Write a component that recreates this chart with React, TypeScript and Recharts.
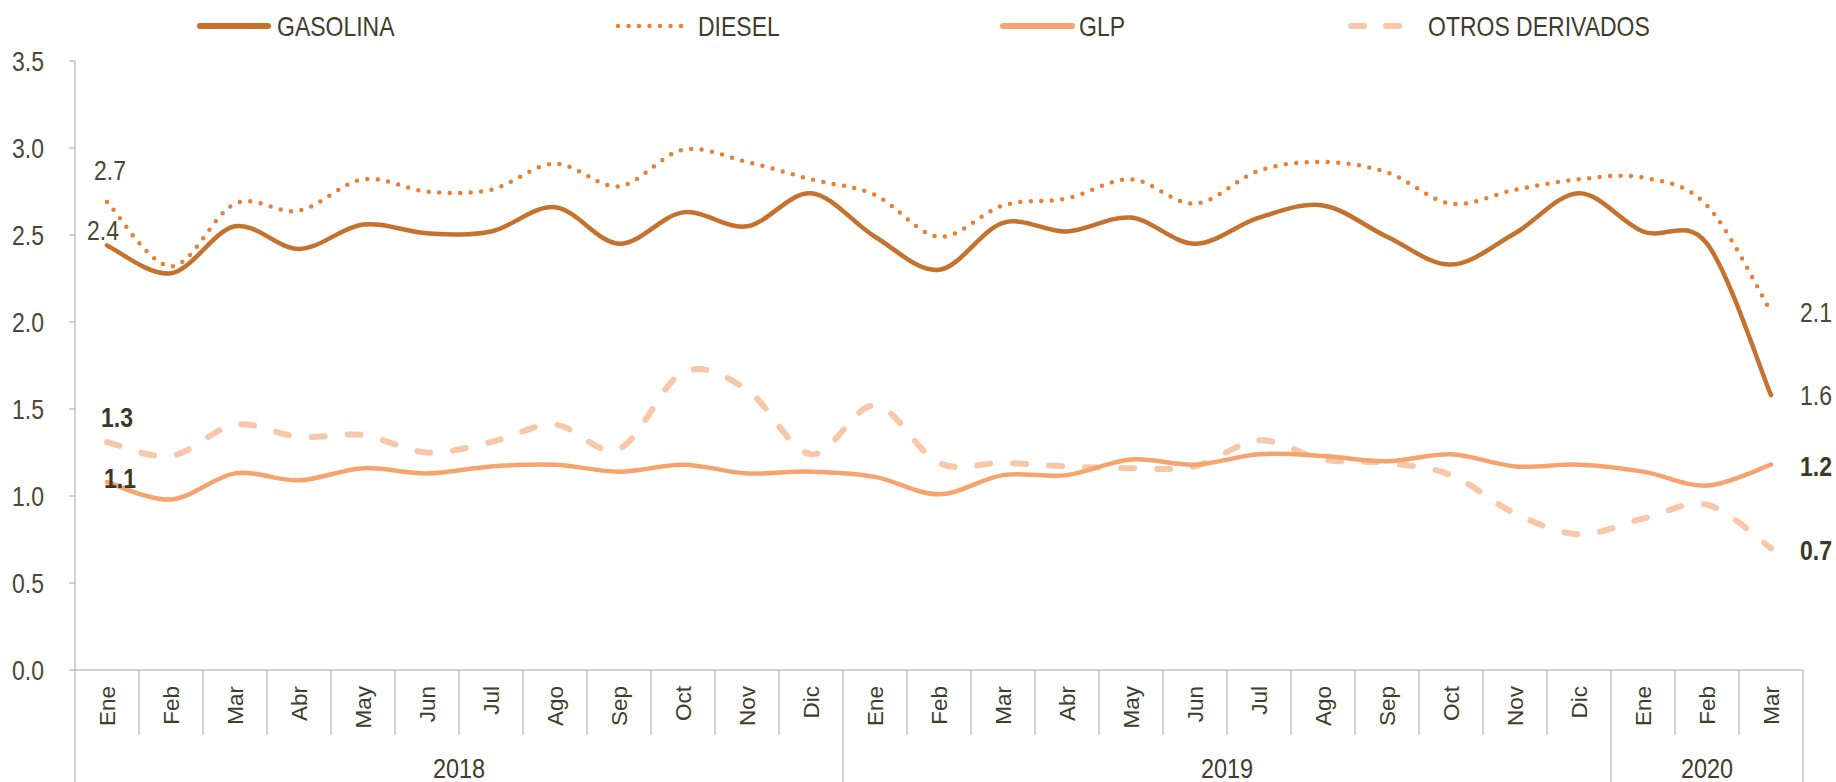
import React from 'react';
import { LineChart, Line, XAxis, YAxis, LabelList } from 'recharts';

// ---------- data ----------
const months = ['Ene','Feb','Mar','Abr','May','Jun','Jul','Ago','Sep','Oct','Nov','Dic','Ene','Feb','Mar','Abr','May','Jun','Jul','Ago','Sep','Oct','Nov','Dic','Ene','Feb','Mar'];
const years = ['2018', '2019', '2020'];
const yearCounts = [12, 12, 3];
const gasolina = [2.44,2.28,2.55,2.42,2.56,2.51,2.52,2.66,2.45,2.63,2.55,2.74,2.49,2.30,2.57,2.52,2.60,2.45,2.60,2.67,2.49,2.33,2.51,2.74,2.52,2.45,1.58];
const diesel = [2.69,2.32,2.68,2.64,2.82,2.75,2.76,2.91,2.78,2.99,2.92,2.82,2.73,2.49,2.67,2.71,2.82,2.68,2.87,2.92,2.86,2.68,2.76,2.82,2.83,2.67,2.06];
const glp = [1.08,0.98,1.13,1.09,1.16,1.13,1.17,1.18,1.14,1.18,1.13,1.14,1.11,1.01,1.12,1.12,1.21,1.18,1.24,1.23,1.20,1.24,1.17,1.18,1.14,1.06,1.18];
const otros = [1.31,1.23,1.41,1.34,1.35,1.25,1.31,1.41,1.27,1.71,1.61,1.24,1.52,1.19,1.19,1.17,1.16,1.17,1.32,1.21,1.19,1.12,0.90,0.78,0.87,0.95,0.70];
const yTicks = [0, 0.5, 1, 1.5, 2, 2.5, 3, 3.5];
const seriesNames = ['GASOLINA', 'DIESEL', 'GLP', 'OTROS DERIVADOS'];

// ---------- layout / style ----------
const W = 1836, H = 782;
const ML = 75, MR = 33, MT = 61, MB = 112;
const band = (W - ML - MR) / months.length;
const axisY = H - MB;
const FONT = "'Liberation Sans', Arial, sans-serif";
const TXT = '#3F3D2B';
const GRID = '#A6A6A6';
const STRETCH = 1.2;

const C_GAS = '#C4722E';
const C_DIE = '#EA7F35';
const C_GLP = '#F5A46E';
const C_OTR = '#F8C7A8';

const data = months.map((m, i) => ({
  m,
  gasolina: gasolina[i],
  diesel: diesel[i],
  glp: glp[i],
  otros: otros[i],
}));

const yearStarts: number[] = [];
{
  let s = 0;
  yearCounts.forEach((c) => { yearStarts.push(s); s += c; });
}

// Excel-like smoothing (uniform Catmull-Rom as cubic Bezier)
function excelCurve(context: any) {
  let pts: number[][] = [];
  return {
    areaStart() {},
    areaEnd() {},
    lineStart() { pts = []; },
    point(x: number, y: number) { pts.push([+x, +y]); },
    lineEnd() {
      const n = pts.length;
      if (!n) return;
      context.moveTo(pts[0][0], pts[0][1]);
      for (let i = 0; i < n - 1; i++) {
        const p0 = pts[i - 1] || pts[i];
        const p1 = pts[i];
        const p2 = pts[i + 1];
        const p3 = pts[i + 2] || p2;
        context.bezierCurveTo(
          p1[0] + (p2[0] - p0[0]) / 6, p1[1] + (p2[1] - p0[1]) / 6,
          p2[0] - (p3[0] - p1[0]) / 6, p2[1] - (p3[1] - p1[1]) / 6,
          p2[0], p2[1]
        );
      }
    },
  };
}

// horizontal text, slightly stretched vertically like the reference
function SText(props: any) {
  const { x, y, anchor = 'start', size = 23, weight = 'normal', fill = TXT, children } = props;
  return (
    <text transform={`translate(${x},${y}) scale(1,${STRETCH})`} textAnchor={anchor} dominantBaseline="central"
      fontSize={size} fontWeight={weight} fontFamily={FONT} fill={fill}>{children}</text>
  );
}

function MonthTick(props: any) {
  const { x, payload } = props;
  const i = payload.index;
  const left = x - band / 2;
  const right = x + band / 2;
  const isYearStart = yearStarts.includes(i);
  const last = i === months.length - 1;
  const els: any[] = [];
  els.push(
    <line key="l" x1={left} x2={left} y1={axisY} y2={isYearStart ? H : axisY + 65} stroke={GRID} strokeWidth={1} />
  );
  if (last) {
    els.push(<line key="r" x1={right} x2={right} y1={axisY} y2={H} stroke={GRID} strokeWidth={1} />);
  }
  els.push(
    <text key="t" transform={`translate(${x},${axisY + 16}) rotate(-90)`} textAnchor="end" dy="0.36em"
      fontSize={22.5} fontFamily={FONT} fill={TXT}>{payload.value}</text>
  );
  yearStarts.forEach((s, k) => {
    const mid = s + yearCounts[k] / 2 - 0.5;
    if (Math.floor(mid) === i) {
      els.push(
        <SText key={'y' + k} x={x + (mid - i) * band} y={axisY + 98} anchor="middle" size={23.5}>{years[k]}</SText>
      );
    }
  });
  return <g>{els}</g>;
}

function YTick(props: any) {
  const { x, y, payload } = props;
  return <SText x={x} y={y} anchor="end" size={23} fill="#4A4838">{Number(payload.value).toFixed(1)}</SText>;
}

function makeLabel(first: [number, number], lastOff: [number, number], bold: boolean) {
  return (p: any) => {
    const { x, y, value, index } = p;
    let off: [number, number] | null = null;
    if (index === 0) off = first;
    else if (index === months.length - 1) off = lastOff;
    if (!off) return null;
    return (
      <SText x={x + off[0]} y={y + off[1]} anchor="middle" size={23}
        weight={bold ? 'bold' : 'normal'} fill={bold ? '#3A3826' : '#4A4836'}>
        {Number(value).toFixed(1)}
      </SText>
    );
  };
}

function Legend() {
  const y = 26;
  return (
    <svg width={W} height={50} style={{ position: 'absolute', left: 0, top: 0 }}>
      <line x1={200} x2={268} y1={y} y2={y} stroke={C_GAS} strokeWidth={6} strokeLinecap="round" />
      <SText x={277} y={y} size={23}>{seriesNames[0]}</SText>
      <line x1={618} x2={686} y1={y} y2={y} stroke={C_DIE} strokeWidth={4.5} strokeLinecap="round" strokeDasharray="0 10.5" />
      <SText x={698} y={y} size={23}>{seriesNames[1]}</SText>
      <line x1={1003} x2={1072} y1={y} y2={y} stroke={C_GLP} strokeWidth={6} strokeLinecap="round" />
      <SText x={1079} y={y} size={23}>{seriesNames[2]}</SText>
      <line x1={1351} x2={1404} y1={y} y2={y} stroke={C_OTR} strokeWidth={6} strokeLinecap="round" strokeDasharray="13 22" />
      <SText x={1428} y={y} size={23}>{seriesNames[3]}</SText>
    </svg>
  );
}

export default function App() {
  return (
    <div style={{ position: 'absolute', left: 0, top: 0, width: W, height: H, background: '#fff' }}>
      <LineChart width={W} height={H} data={data} margin={{ top: MT, right: MR, bottom: 0, left: 0 }}>
        <XAxis dataKey="m" interval={0} tickLine={false} axisLine={{ stroke: GRID, strokeWidth: 1 }}
          height={MB} tick={<MonthTick />} padding={{ left: band / 2, right: band / 2 }} />
        <YAxis domain={[0, 3.5]} ticks={yTicks} width={ML} tickSize={6} tickMargin={25}
          axisLine={{ stroke: GRID, strokeWidth: 1 }} tickLine={{ stroke: GRID }} tick={<YTick />} />
        <Line dataKey="otros" type={excelCurve as any} stroke={C_OTR} strokeWidth={6} strokeLinecap="round"
          strokeDasharray="13 23" dot={false} activeDot={false} isAnimationActive={false}>
          <LabelList dataKey="otros" content={makeLabel([10, -25], [45, 2], true)} />
        </Line>
        <Line dataKey="glp" type={excelCurve as any} stroke={C_GLP} strokeWidth={4.5} strokeLinecap="round"
          dot={false} activeDot={false} isAnimationActive={false}>
          <LabelList dataKey="glp" content={makeLabel([13, -4], [45, 2], true)} />
        </Line>
        <Line dataKey="diesel" type={excelCurve as any} stroke={C_DIE} strokeWidth={4.5} strokeLinecap="round"
          strokeDasharray="0 10.5" dot={false} activeDot={false} isAnimationActive={false}>
          <LabelList dataKey="diesel" content={makeLabel([3, -32], [45, 1], false)} />
        </Line>
        <Line dataKey="gasolina" type={excelCurve as any} stroke={C_GAS} strokeWidth={4.5} strokeLinecap="round"
          dot={false} activeDot={false} isAnimationActive={false}>
          <LabelList dataKey="gasolina" content={makeLabel([-4, -15], [45, 0], false)} />
        </Line>
      </LineChart>
      <Legend />
    </div>
  );
}
